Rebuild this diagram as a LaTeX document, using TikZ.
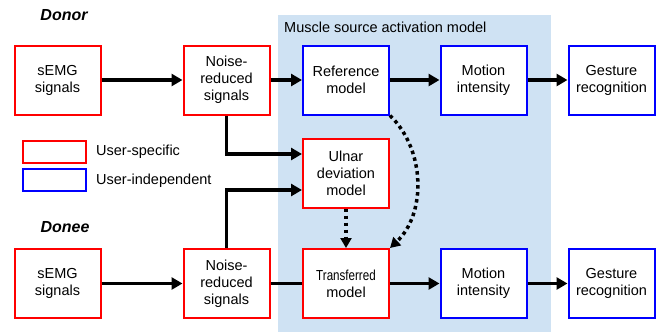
\documentclass[tikz,border=0pt]{standalone}
\usepackage{fontspec}
\setmainfont{Liberation Sans}
\usetikzlibrary{arrows.meta,calc}
\definecolor{panelblue}{RGB}{207,226,243}
\definecolor{specred}{RGB}{255,0,0}
\definecolor{indepblue}{RGB}{0,0,255}
\tikzset{
  box/.style={draw, line width=2pt, fill=white, minimum width=86pt, minimum height=69pt,
    inner sep=1pt, align=center, font=\fontsize{14.5}{17}\selectfont},
  specbox/.style={box, draw=specred},
  indepbox/.style={box, draw=indepblue},
  flow/.style={line width=3.5pt, -{Triangle[length=11pt,width=12pt]}},
  plainflow/.style={line width=3.5pt},
  dotflow/.style={line width=3.5pt, dash pattern=on 3.5pt off 3.5pt,
    -{Triangle[length=10pt,width=11pt]}},
  labeltext/.style={font=\fontsize{14.5}{17}\selectfont, inner sep=0pt},
  rowtitle/.style={font=\fontsize{16}{18}\selectfont\bfseries\itshape, inner sep=0pt},
  legendbox/.style={draw, line width=2pt, minimum width=63pt, minimum height=22pt, inner sep=0pt}
}
\begin{document}
\begin{tikzpicture}[x=1pt,y=-1pt]
  \useasboundingbox (0,0) rectangle (662,333);
  % shaded panel of the muscle source activation model
  \fill[panelblue] (278,15) rectangle (551,332);
  \node[labeltext, anchor=west] (paneltitle) at (284,27) {Muscle source activation model};

  % row titles
  \node[rowtitle] (donor) at (64,15) {Donor};
  \node[rowtitle] (donee) at (65,227) {Donee};

  % donor row
  \node[specbox] (semg1) at (57.5,80) {sEMG\\signals};
  \node[specbox] (nr1) at (226.5,80) {Noise-\\reduced\\signals};
  \node[indepbox] (ref) at (346,80) {Reference\\model};
  \node[indepbox] (mot1) at (483.5,80) {Motion\\intensity};
  \node[indepbox] (ges1) at (611.5,80) {Gesture\\recognition};

  % ulnar deviation model
  \node[specbox] (ulnar) at (346,173) {Ulnar\\deviation\\model};

  % donee row
  \node[specbox] (semg2) at (57.5,283.5) {sEMG\\signals};
  \node[specbox] (nr2) at (226.5,283.5) {Noise-\\reduced\\signals};
  \node[specbox] (trans) at (346,283.5) {\scalebox{0.8}[1]{Transferred}\\model};
  \node[indepbox] (mot2) at (483.5,283.5) {Motion\\intensity};
  \node[indepbox] (ges2) at (611.5,283.5) {Gesture\\recognition};

  % legend
  \node[legendbox, draw=specred] (legspec) at (54,151.5) {};
  \node[legendbox, draw=indepblue] (legindep) at (54,180) {};
  \node[labeltext, anchor=west] (legspectext) at (96,152) {User-specific};
  \node[labeltext, anchor=west] (legindeptext) at (96,181) {User-independent};

  % donor flow
  \draw[flow] (semg1) -- (nr1);
  \draw[flow] (nr1) -- (ref);
  \draw[flow] (ref) -- (mot1);
  \draw[flow] (mot1) -- (ges1);

  % donee flow
  \draw[flow] (semg2) -- (nr2);
  \draw[plainflow] (nr2) -- (trans);
  \draw[flow] (trans) -- (mot2);
  \draw[flow] (mot2) -- (ges2);

  % inputs to the ulnar deviation model
  \draw[flow] (nr1.south) |- ([yshift=19pt]ulnar.west);
  \draw[flow] (nr2.north) |- ([yshift=-17pt]ulnar.west);

  % transfer into the donee model
  \draw[dotflow] (ulnar.south) -- (trans.north);
  \coordinate (bendA) at ($(ref.south east)+(36,35)$);
  \coordinate (bendB) at ($(trans.north east)+(36,-34)$);
  \draw[dotflow] (ref.south east) .. controls (bendA) and (bendB) .. (trans.north east);
\end{tikzpicture}
\end{document}
